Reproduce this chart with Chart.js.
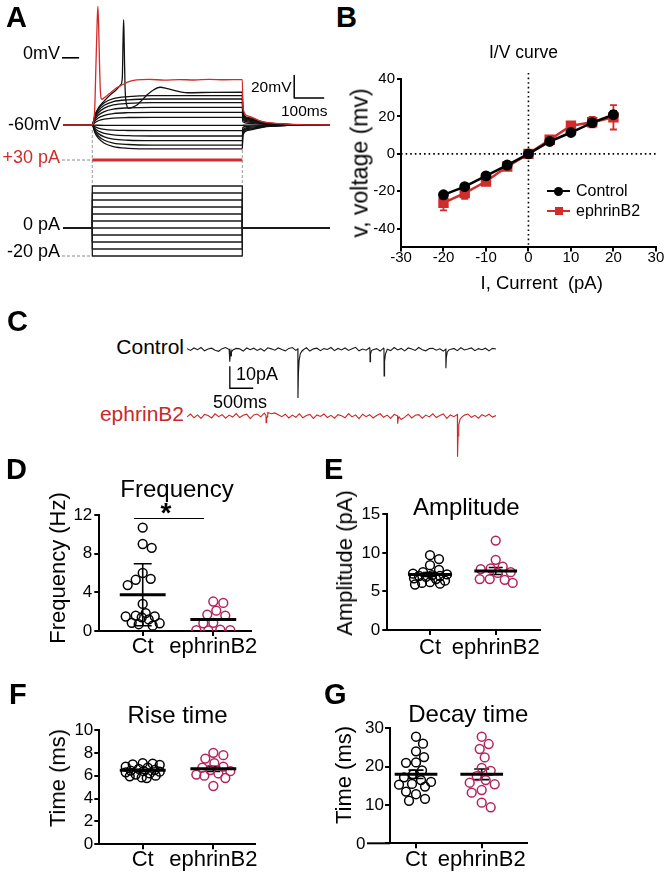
<!DOCTYPE html>
<html>
<head>
<meta charset="utf-8">
<script src="https://cdn.jsdelivr.net/npm/chart.js@4.4.1/dist/chart.umd.min.js"></script>
<style>
html, body { margin:0; padding:0; background:#fff; }
#fig { position:relative; width:664px; height:875px; overflow:hidden; background:#fff;
  font-family:"Liberation Sans", Arial, Helvetica, sans-serif; color:#000; }
#fig canvas { position:absolute; }
.t { position:absolute; white-space:pre; line-height:1; }
.sym { position:absolute; }
</style>
</head>
<body>
<div id="fig"></div>
<script>
// ================= DATA =================
// ---- Panel A: current-clamp recording (mV vs ms) ----
const stepOnMs = 0, stepOffMs = 500, traceStartMs = -97.7, traceEndMs = 792;
const stepSampleMs = [-97.7, 0, 8, 20, 40, 70, 120, 200, 350, 500, 502, 520, 580, 650, 792];
const blackTraceMv = [
  [-60,-60,-52.1,-45.6,-40.1,-36.4,-34.6,-33.8,-33.8,-33.8,-49.0,-54.2,-58.2,-59.5,-60],
  [-60,-60,-53.0,-47.2,-42.4,-39.1,-37.5,-36.8,-36.8,-36.8,-50.3,-54.9,-58.4,-59.5,-60],
  [-60,-60,-54.0,-49.1,-44.9,-42.1,-40.7,-40.1,-40.1,-40.1,-51.6,-55.6,-58.6,-59.6,-60],
  [-60,-60,-55.3,-51.3,-48.0,-45.8,-44.7,-44.2,-44.2,-44.2,-53.4,-56.5,-58.9,-59.7,-60],
  [-60,-60,-56.6,-53.8,-51.4,-49.8,-49.0,-48.7,-48.7,-48.7,-55.3,-57.5,-59.2,-59.8,-60],
  [-60,-60,-57.9,-56.2,-54.8,-53.8,-53.3,-53.1,-53.1,-53.1,-57.1,-58.5,-59.5,-59.9,-60],
  [-60,-60,-60.1,-60.2,-60.3,-60.4,-60.4,-60.4,-60.4,-60.4,-60.2,-60.1,-60.0,-60.0,-60],
  [-60,-60,-61.5,-62.8,-63.9,-64.6,-64.9,-65.1,-65.1,-65.1,-62.1,-61.1,-60.4,-60.1,-60],
  [-60,-60,-62.9,-65.4,-67.4,-68.8,-69.5,-69.8,-69.8,-69.8,-64.1,-62.2,-60.7,-60.2,-60],
  [-60,-60,-64.2,-67.7,-70.6,-72.6,-73.6,-74.0,-74.0,-74.0,-65.9,-63.1,-61.0,-60.3,-60],
  [-60,-60,-65.4,-69.8,-73.6,-76.1,-77.4,-77.9,-77.9,-77.9,-67.5,-63.9,-61.3,-60.4,-60],
  [-60,-60,-66.4,-71.8,-76.3,-79.3,-80.8,-81.4,-81.4,-81.4,-69.0,-64.7,-61.5,-60.4,-60]
];
const spikeTraceMs = [-97.7,0,8,20,40,60,80,95,100,102.5,104.5,106.5,109,113,121,135,149,165,182,205,226,250,270,316,400,500,502,520,580,650,792];
const spikeTraceMv = [-60,-60,-52,-45,-38.5,-33,-28.5,-24,-18,15,34,10,-25,-40,-45.1,-44,-42.1,-38,-33.2,-28.5,-26.3,-27.5,-28.8,-31.2,-30.8,-30.6,-48,-53.5,-58,-59.4,-60];
const redTraceMs = [-97.7,0,4,8,12,16,18.5,21,24,27,32,45,59,80,99,120,148,190,240,290,340,390,440,500,502,520,560,650,792];
const redTraceMv = [-60,-60,-58,-46,-8,30,46,30,-5,-30,-37,-34.5,-31.7,-27,-24.3,-21.5,-19.8,-19.3,-19.9,-19.4,-19.8,-19.2,-19.6,-19.5,-45,-52,-56.5,-59.2,-60];
const commandLevelsPa = [-20,-15,-10,-5,0,5,10,15,20,25,30];
const redCommandPa = 30;

// ---- Panel B: I/V curve ----
const ivCurrent = [-20,-15,-10,-5,0,5,10,15,20];
const ivControl = [-21.9,-17.5,-11.8,-6.0,0,6.6,11.4,16.7,20.9];
const ivControlErr = [1.0,1.0,1.0,0.8,0,0.8,0.9,1.2,2.0];
const ivEphrin = [-26.2,-21.0,-14.8,-6.8,0,7.5,15.0,16.9,19.5];
const ivEphrinErr = [4.0,3.0,1.6,1.0,0,1.0,1.6,2.8,6.5];
const ivVoltTicks = [-40,-20,0,20,40];

// ---- Panel C: spontaneous currents (pA), sampled every 75 ms ----
const sampleDtS = 0.075;
const ctrlNoisePa = [0.3,-0.5,0.6,-0.2,0.8,-0.7,0.1,0.5,-0.4,-0.9,0.3,0.8,-0.1,-0.6,0.4,0.2,-0.8,0.6,-0.2,0.5,
 -0.5,0.3,-0.8,0.7,0.2,-0.4,0.6,-0.1,-0.7,0.4,0.8,-0.5,0.1,-0.3,0.7,-0.8,0.2,0.5,-0.6,0.3,
 -0.1,0.8,-0.6,0.4,-0.3,0.6,-0.5,0.2,0.9,-0.7,0.1,-0.4,0.7,-0.2,0.3,-0.8,0.5,0.0,-0.6,0.8,
 -0.3,0.4,-0.7,0.6,0.1,-0.5,0.8,-0.2,-0.7,0.3,0.5,-0.4,0.2,-0.8,0.7,-0.1,0.4,-0.6,0.7,-0.3,
 0.1,0.6,-0.6,0.3,-0.2,0.5,-0.7,0.4,0.1];
const ctrlEvents = [
  [[0.912,0.3],[0.915,-5.6],[0.925,-2.4],[0.94,-1.0],[0.945,-3.2],[0.955,-1.2],[0.98,-0.3]],
  [[2.367,0.2],[2.37,-22.1],[2.38,-11],[2.395,-5],[2.42,-2],[2.46,-0.6]],
  [[3.907,0.1],[3.91,-5.6],[3.92,-2.2],[3.94,-0.6]],
  [[4.207,0.2],[4.21,-12.1],[4.22,-5.5],[4.24,-2.0],[4.27,-0.5]],
  [[5.527,0.1],[5.53,-8.6],[5.54,-3.6],[5.56,-1.2],[5.6,-0.2]]
];
const ephNoisePa = [-0.4,0.9,-0.8,0.5,-1.1,0.7,0.2,-0.9,1.0,-0.3,0.6,-1.0,0.4,-0.5,1.1,-0.7,0.3,0.8,-1.2,0.5,
 0.9,-0.4,1.3,1.6,1.0,1.4,0.6,-0.3,0.8,-0.9,0.4,-0.6,1.0,-0.8,0.2,0.7,-1.1,0.5,-0.2,0.9,
 -0.7,0.3,-1.0,0.6,0.1,-0.8,1.1,-0.4,0.5,-1.2,0.8,-0.3,0.6,-0.9,0.2,1.0,-0.6,0.4,-1.1,0.7,
 -0.2,-1.6,-0.5,0.8,-0.9,0.3,0.6,-1.0,0.4,-0.4,1.0,-0.7,0.2,0.9,-1.1,0.5,-0.3,0.7,-0.8,0.4,
 0.9,-0.6,0.3,-1.0,0.6,-0.2,0.8,-0.5,0.2];
const ephEvents = [
  [[1.687,0.2],[1.69,-3.0],[1.70,-1.2],[1.72,-0.3]],
  [[4.497,0.1],[4.5,-3.5],[4.51,-1.5],[4.53,-0.4]],
  [[5.777,0.2],[5.78,-18.5],[5.79,-9],[5.805,-4],[5.83,-1.6],[5.87,-0.5]]
];
const scaleBarPa = 10, scaleBarS = 0.5;

// ---- Panels D-G: per-cell values ----
const groupNames = ['Ct', 'ephrinB2'];
const freqCt  = [10.7,9.0,8.6,6.0,5.4,5.3,4.75,2.8,1.85,1.6,1.5,1.5,1.4,1.2,0.85,0.8,0.7,0.55];
const freqEph = [3.05,2.9,2.1,1.7,1.6,0.85,0.8,0.15,0.1,0.1,0.05];
const freqMean = [3.75,1.2], freqSD = [3.2,0];
const ampCt  = [9.7,9.2,8.4,7.8,7.5,7.3,7.2,7.1,7.0,7.0,6.9,6.7,6.6,6.4,6.2,6.1,6.0,5.9];
const ampEph = [11.6,9.1,8.2,8.0,7.9,7.5,7.4,6.6,6.6,6.5,6.1];
const ampMean = [7.2,7.65], ampSEM = [0.25,0.45];
const riseCt  = [7.1,7.05,7.0,6.95,6.8,6.7,6.6,6.5,6.45,6.4,6.35,6.3,6.2,6.1,6.0,5.95,5.85,5.8];
const riseEph = [8.0,7.8,7.5,7.1,6.8,6.7,6.5,6.4,6.2,6.1,6.0,5.8,5.1];
const riseMean = [6.47,6.6], riseSEM = [0.09,0.22];
const decayCt  = [27.8,26.0,24.0,22.5,21.1,21.0,19.0,18.0,17.2,16.5,16.0,15.5,15.3,14.8,13.5,12.8,11.6,11.1];
const decayEph = [27.8,25.9,24.6,22.4,19.7,18.9,17.5,16.5,15.8,15.4,13.9,13.2,10.6,9.4];
const decayMean = [18.0,18.0], decaySEM = [1.1,1.4];

// ================= STYLE / HELPERS =================
const RED = '#d22b2b', MAG = '#b3245f';
const MEAN_HALF = 0.325;
Chart.defaults.font.family = '"Liberation Sans", Arial, Helvetica, sans-serif';
Chart.defaults.color = '#000';
const fig = document.getElementById('fig');

function mkCanvas(left, top, w, h) {
  const c = document.createElement('canvas');
  c.width = w; c.height = h;
  c.style.left = left + 'px'; c.style.top = top + 'px';
  c.style.width = w + 'px'; c.style.height = h + 'px';
  fig.appendChild(c); return c;
}
function txt(s, x, base, size, o = {}) {
  const d = document.createElement('div');
  d.className = 't'; d.textContent = s;
  d.style.fontSize = size + 'px';
  if (o.bold) d.style.fontWeight = 'bold';
  if (o.color) d.style.color = o.color;
  d.style.top = (base - 0.847 * size) + 'px';
  d.style.left = x + 'px';
  if (o.align === 'right') d.style.transform = 'translateX(-100%)';
  else if (o.align === 'center') d.style.transform = 'translateX(-50%)';
  fig.appendChild(d); return d;
}
function vtxt(s, cx, cy, size) {
  const d = document.createElement('div');
  d.className = 't'; d.textContent = s; d.style.fontSize = size + 'px';
  d.style.left = cx + 'px'; d.style.top = cy + 'px';
  d.style.transform = 'translate(-50%,-50%) rotate(-90deg)';
  fig.appendChild(d); return d;
}
function box(left, top, w, h, bg, radius) {
  const d = document.createElement('div');
  d.className = 'sym';
  Object.assign(d.style, {left:left+'px', top:top+'px', width:w+'px', height:h+'px', background:bg});
  if (radius) d.style.borderRadius = radius;
  fig.appendChild(d); return d;
}
function fixW(w) { return s => { s.width = w; s.paddingTop = 0; s.paddingBottom = 0; s.paddingLeft = 0; s.paddingRight = 0; }; }
function fixH(h) { return s => { s.height = h; s.paddingTop = 0; s.paddingBottom = 0; s.paddingLeft = 0; s.paddingRight = 0; }; }
const baseOpts = { responsive:false, animation:false, devicePixelRatio:1, events:[] };

// error bars drawn through the chart's own scales
Chart.register({
  id: 'errbars',
  defaults: { bars: [] },
  beforeDatasetsDraw(chart, args, opts) {
    const bars = opts.bars || [];
    if (!bars.length) return;
    const {ctx, scales:{x, y}} = chart;
    ctx.save();
    for (const b of bars) {
      const px = x.getPixelForValue(b.x);
      const pt = y.getPixelForValue(b.y + b.err), pb = y.getPixelForValue(b.y - b.err);
      ctx.strokeStyle = b.color; ctx.lineWidth = b.width;
      ctx.beginPath();
      ctx.moveTo(px, pt); ctx.lineTo(px, pb);
      ctx.moveTo(px - b.cap, pt); ctx.lineTo(px + b.cap, pt);
      ctx.moveTo(px - b.cap, pb); ctx.lineTo(px + b.cap, pb);
      ctx.stroke();
    }
    ctx.restore();
  }
});

// ================= PANEL A =================
(function () {
  const cv = mkCanvas(0, 0, 332, 270);
  const ds = [];
  const line = (pts, axis, color, w, extra) => Object.assign({ data: pts, yAxisID: axis, borderColor: color, borderWidth: w, pointRadius: 0, fill: false }, extra || {});
  ds.push(line([{x:stepOnMs,y:redCommandPa},{x:stepOffMs,y:redCommandPa}], 'cmdRed', RED, 3));
  ds.push(line(redTraceMs.map((t,i)=>({x:t,y:redTraceMv[i]})), 'mV', RED, 1.3, {cubicInterpolationMode:'monotone'}));
  ds.push(line(spikeTraceMs.map((t,i)=>({x:t,y:spikeTraceMv[i]})), 'mV', '#111', 1.3, {cubicInterpolationMode:'monotone'}));
  blackTraceMv.forEach(tr => ds.push(line(stepSampleMs.map((t,i)=>({x:t,y:tr[i]})), 'mV', '#111', 1.3, {cubicInterpolationMode:'monotone'})));
  commandLevelsPa.forEach(L => ds.push(line([{x:traceStartMs,y:0},{x:stepOnMs,y:0},{x:stepOnMs,y:L},{x:stepOffMs,y:L},{x:stepOffMs,y:0},{x:traceEndMs,y:0}], 'pA', '#1a1a1a', 1.3)));
  const dash = {borderDash:[3,2]};
  ds.push(line([{x:-101,y:redCommandPa},{x:stepOnMs,y:redCommandPa}], 'cmdRed', '#888', 1, dash));
  ds.push(line([{x:-101,y:-20},{x:stepOnMs,y:-20}], 'pA', '#888', 1, dash));
  ds.push(line([{x:stepOnMs,y:70},{x:stepOnMs,y:30}], 'pA', '#999', 1, dash));
  ds.push(line([{x:stepOffMs,y:70},{x:stepOffMs,y:30}], 'pA', '#999', 1, dash));
  ds.push(line([{x:-101,y:0},{x:-44,y:0}], 'mV', '#000', 1.6));
  ds.push(line([{x:673,y:-35.8+20},{x:673,y:-35.8},{x:673+100,y:-35.8}], 'mV', '#000', 1.5));
  new Chart(cv, {
    type: 'line',
    data: { datasets: ds },
    options: Object.assign({}, baseOpts, {
      layout: { padding: { left: 62, right: 2, top: 0, bottom: 0 } },
      plugins: { legend: { display: false }, tooltip: { enabled: false } },
      elements: { line: { borderJoinStyle: 'round', borderCapStyle: 'butt' } },
      scales: {
        x: { type: 'linear', display: false, min: -101, max: 792.3 },
        y: { display: false },
        mV: { type: 'linear', display: false, min: -189.46, max: 51.61 },
        pA: { type: 'linear', display: false, min: -30, max: 162.86 },
        cmdRed: { type: 'linear', display: false, min: -48.57, max: 144.29 }
      }
    })
  });
  txt('A', 6, 28, 29, {bold:true});
  txt('0mV', 60, 59, 18, {align:'right'});
  txt('-60mV', 61, 130.5, 18, {align:'right'});
  txt('+30 pA', 60, 163, 18, {align:'right', color:RED});
  txt('0 pA', 60, 230, 18, {align:'right'});
  txt('-20 pA', 60, 257, 18, {align:'right'});
  txt('20mV', 251, 92, 15.5);
  txt('100ms', 281, 116, 15.5);
})();

// ================= PANEL B =================
(function () {
  const cv = mkCanvas(330, 60, 334, 215);
  const bars = [];
  ivCurrent.forEach((x, i) => {
    if (ivControlErr[i] > 0) bars.push({x, y: ivControl[i], err: ivControlErr[i], cap: 3.5, color: '#000', width: 1.8});
    if (ivEphrinErr[i] > 0) bars.push({x, y: ivEphrin[i], err: ivEphrinErr[i], cap: 3.5, color: RED, width: 1.8});
  });
  const zeroLines = {
    id: 'zeroLines',
    beforeDatasetsDraw(chart) {
      const {ctx, chartArea: a, scales: {x, y}} = chart;
      const x0 = x.getPixelForValue(0), y0 = y.getPixelForValue(0);
      ctx.save(); ctx.strokeStyle = '#000'; ctx.lineWidth = 1.6; ctx.setLineDash([1.6, 3]);
      ctx.beginPath(); ctx.moveTo(x0, a.top - 6); ctx.lineTo(x0, a.bottom);
      ctx.moveTo(a.left, y0); ctx.lineTo(a.right, y0); ctx.stroke(); ctx.restore();
    }
  };
  const grid = { drawOnChartArea: false, tickLength: 4, lineWidth: 2, color: '#000' };
  new Chart(cv, {
    type: 'scatter',
    data: { datasets: [
      { label: 'Control', data: ivCurrent.map((x, i) => ({x, y: ivControl[i]})), showLine: true,
        borderColor: '#000', backgroundColor: '#000', borderWidth: 2.5, pointRadius: 4.2, pointStyle: 'circle', order: 0 },
      { label: 'ephrinB2', data: ivCurrent.map((x, i) => ({x, y: ivEphrin[i]})), showLine: true,
        borderColor: RED, backgroundColor: RED, borderWidth: 2.5, pointRadius: 5.6, pointStyle: 'rect', order: 1 }
    ] },
    options: Object.assign({}, baseOpts, {
      layout: { padding: { left: 0, right: 8, top: 19, bottom: 0 } },
      plugins: { legend: { display: false }, tooltip: { enabled: false }, errbars: { bars } },
      scales: {
        x: { type: 'linear', min: -30, max: 30, afterFit: fixH(27.6),
             ticks: { stepSize: 10, font: { size: 15, lineHeight: 1 }, padding: -1, maxRotation: 0, autoSkip: false },
             grid, border: { color: '#000', width: 2 } },
        y: { type: 'linear', min: -50, max: 40, afterFit: fixW(71),
             afterBuildTicks: a => { a.ticks = ivVoltTicks.map(v => ({value: v})); },
             ticks: { font: { size: 15 }, padding: 2, autoSkip: false },
             grid, border: { color: '#000', width: 2 } }
      }
    }),
    plugins: [zeroLines]
  });
  txt('B', 336, 28, 29, {bold:true});
  txt('I/V curve', 523.5, 59, 17.5, {align:'center'});
  vtxt('v, voltage (mv)', 360, 162.5, 23);
  txt('I, Current  (pA)', 541.7, 290, 18.5, {align:'center'});
  // legend
  box(547, 189.75, 23, 2.5, '#000');
  box(554, 186.5, 9, 9, '#000', '50%');
  txt('Control', 576, 196.7, 16);
  box(547, 209.75, 23, 2.5, RED);
  box(554.5, 207, 8, 8, RED);
  txt('ephrinB2', 576, 216.7, 16);
})();

// ================= PANEL C =================
(function () {
  function traceData(noise, events) {
    const pts = [];
    noise.forEach((v, i) => {
      const t = i * sampleDtS;
      if (!events.some(e => t >= e[0][0] && t <= e[e.length - 1][0])) pts.push({x: t, y: v});
    });
    events.forEach(e => e.forEach(([t, v]) => pts.push({x: t, y: v})));
    pts.sort((a, b) => a.x - b.x);
    return pts;
  }
  const cv = mkCanvas(186, 330, 312, 140);
  new Chart(cv, {
    type: 'line',
    data: { datasets: [
      { data: traceData(ctrlNoisePa, ctrlEvents), yAxisID: 'yC', borderColor: '#1a1a1a', borderWidth: 1.1, pointRadius: 0 },
      { data: traceData(ephNoisePa, ephEvents), yAxisID: 'yE', borderColor: '#c9282b', borderWidth: 1.1, pointRadius: 0 },
      { data: [{x:0.915,y:-7.7},{x:0.915,y:-7.7-scaleBarPa},{x:0.915+scaleBarS,y:-7.7-scaleBarPa}], yAxisID: 'yC', borderColor: '#000', borderWidth: 1.3, pointRadius: 0 }
    ] },
    options: Object.assign({}, baseOpts, {
      layout: { padding: { left: 1, right: 2, top: 0, bottom: 0 } },
      plugins: { legend: { display: false }, tooltip: { enabled: false } },
      scales: {
        x: { type: 'linear', display: false, min: 0, max: 6.6 },
        y: { display: false },
        yC: { type: 'linear', display: false, min: -54.86, max: 8.77 },
        yE: { type: 'linear', display: false, min: -24.55, max: 39.09 }
      }
    })
  });
  txt('C', 7, 332, 29, {bold:true});
  txt('Control', 184, 353.5, 21, {align:'right'});
  txt('ephrinB2', 184, 421, 21, {align:'right', color:'#c9282b'});
  txt('10pA', 236, 380, 18);
  txt('500ms', 213, 408, 18);
})();

// ================= PANELS D-G =================
function swarm(chart, dsIndex, center, minDist, maxOff) {
  const xs = chart.scales.x, ys = chart.scales.y;
  const data = chart.data.datasets[dsIndex].data;
  const cpx = xs.getPixelForValue(center);
  const order = data.map((p, i) => ({i, py: ys.getPixelForValue(p.y)})).sort((a, b) => a.py - b.py);
  const placed = [];
  for (const it of order) {
    let bestOff = 0, bestScore = -Infinity;
    for (let k = 0; k <= 2 * maxOff; k++) {
      const off = (k % 2 === 1) ? (k + 1) / 2 : -k / 2;
      let dmin = Infinity;
      for (const q of placed) {
        const d = Math.hypot(cpx + off - q.px, it.py - q.py);
        if (d < dmin) dmin = d;
      }
      if (dmin >= minDist) { bestOff = off; break; }
      if (dmin > bestScore) { bestScore = dmin; bestOff = off; }
    }
    placed.push({px: cpx + bestOff, py: it.py});
    data[it.i].x = xs.getValueForPixel(cpx + bestOff);
  }
}
function dotPlot(c) {
  const cv = mkCanvas(c.left, c.top, c.w, c.h);
  const pts = (vals, cat, color) => ({
    data: vals.map(v => ({x: cat, y: v})), showLine: false, pointRadius: 4.4, pointBorderWidth: 1.5,
    pointStyle: 'circle', borderColor: color, backgroundColor: 'rgba(255,255,255,0)', order: 2
  });
  const mean = (cat, m) => ({
    data: [{x: cat - MEAN_HALF, y: m}, {x: cat + MEAN_HALF, y: m}], showLine: true, pointRadius: 0,
    borderColor: '#000', borderWidth: 3, order: 0
  });
  const bars = [];
  c.err.forEach((e, i) => { if (e > 0) bars.push({x: i + 1, y: c.mean[i], err: e, cap: c.cap, color: '#000', width: 1.6}); });
  const grid = { drawOnChartArea: false, tickLength: 5, lineWidth: 2, color: '#000' };
  const chart = new Chart(cv, {
    type: 'scatter',
    data: { datasets: [pts(c.ct, 1, '#000'), pts(c.eph, 2, MAG), mean(1, c.mean[0]), mean(2, c.mean[1])] },
    options: Object.assign({}, baseOpts, {
      layout: { padding: { left: 0, right: c.padR, top: c.padT, bottom: 0 } },
      plugins: { legend: { display: false }, tooltip: { enabled: false }, errbars: { bars } },
      scales: {
        x: { type: 'linear', min: c.xMin, max: c.xMax, afterFit: fixH(c.xH),
             afterBuildTicks: a => { a.ticks = groupNames.map((n, i) => ({value: i + 1})); },
             ticks: { callback: v => groupNames[Math.round(v) - 1] || '', font: { size: 22, lineHeight: 1 },
                      padding: c.xPad, maxRotation: 0, autoSkip: false },
             grid, border: { color: '#000', width: 2 } },
        y: { type: 'linear', min: c.yMin, max: c.yMax, afterFit: fixW(c.yW),
             ticks: { stepSize: c.yStep, font: { size: 17 }, padding: c.yPad, autoSkip: false, callback: c.yCb || (v => v) },
             grid, border: { color: '#000', width: 2 } }
      }
    }),
    plugins: c.plugins || []
  });
  swarm(chart, 0, 1, 9.5, 17);
  swarm(chart, 1, 2, 9.5, 17);
  chart.update('none');
  return chart;
}

// D
dotPlot({ left: 0, top: 500, w: 264, h: 175, padT: 15, padR: 13.3, yW: 99.3, xH: 44,
  xMin: 0.385, xMax: 2.53, yMin: 0, yMax: 12, yStep: 4, yPad: 2, xPad: 0,
  ct: freqCt, eph: freqEph, mean: freqMean, err: freqSD, cap: 9 });
txt('D', 6, 480, 29, {bold:true});
txt('Frequency', 177, 497, 24, {align:'center'});
vtxt('Frequency (Hz)', 58, 567.5, 22);
box(134, 517.5, 70, 1.5, '#000');
txt('*', 166, 523, 28, {align:'center', bold:true});

// E
dotPlot({ left: 330, top: 500, w: 334, h: 175, padT: 14.3, padR: 124, yW: 57.3, xH: 45,
  xMin: 0.35, xMax: 2.674, yMin: 0, yMax: 15, yStep: 5, yPad: 2, xPad: 2,
  ct: ampCt, eph: ampEph, mean: ampMean, err: ampSEM, cap: 7 });
txt('E', 324, 480, 29, {bold:true});
txt('Amplitude', 466.3, 515, 24, {align:'center'});
vtxt('Amplitude (pA)', 345, 563, 22);

// F
dotPlot({ left: 0, top: 710, w: 264, h: 165, padT: 20, padR: 9, yW: 99.3, xH: 30.7,
  xMin: 0.385, xMax: 2.59, yMin: 0, yMax: 10, yStep: 2, yPad: 1, xPad: 0,
  ct: riseCt, eph: riseEph, mean: riseMean, err: riseSEM, cap: 7 });
txt('F', 9, 705, 29, {bold:true});
txt('Rise time', 177.5, 723, 24, {align:'center'});
vtxt('Time (ms)', 58, 777.5, 22);

// G
const xExtend = { id: 'xExtend', afterDraw(chart) {
  const {ctx, chartArea: a} = chart;
  ctx.save(); ctx.strokeStyle = '#000'; ctx.lineWidth = 2;
  ctx.beginPath(); ctx.moveTo(a.left - 23, a.bottom); ctx.lineTo(a.left, a.bottom); ctx.stroke(); ctx.restore();
} };
dotPlot({ left: 330, top: 710, w: 334, h: 165, padT: 18.3, padR: 136.7, yW: 60, xH: 31.7,
  xMin: 0.604, xMax: 2.694, yMin: 0, yMax: 30, yStep: 10, yPad: 1, xPad: 1,
  yCb: v => (v === 0 ? '' : v), plugins: [xExtend],
  ct: decayCt, eph: decayEph, mean: decayMean, err: decaySEM, cap: 7.5 });
txt('G', 324, 705, 29, {bold:true});
txt('Decay time', 468.3, 722.5, 24, {align:'center'});
vtxt('Time (ms)', 343.5, 775, 22);
txt('0', 365.5, 849.4, 17, {align:'right'});
</script>
</body>
</html>
